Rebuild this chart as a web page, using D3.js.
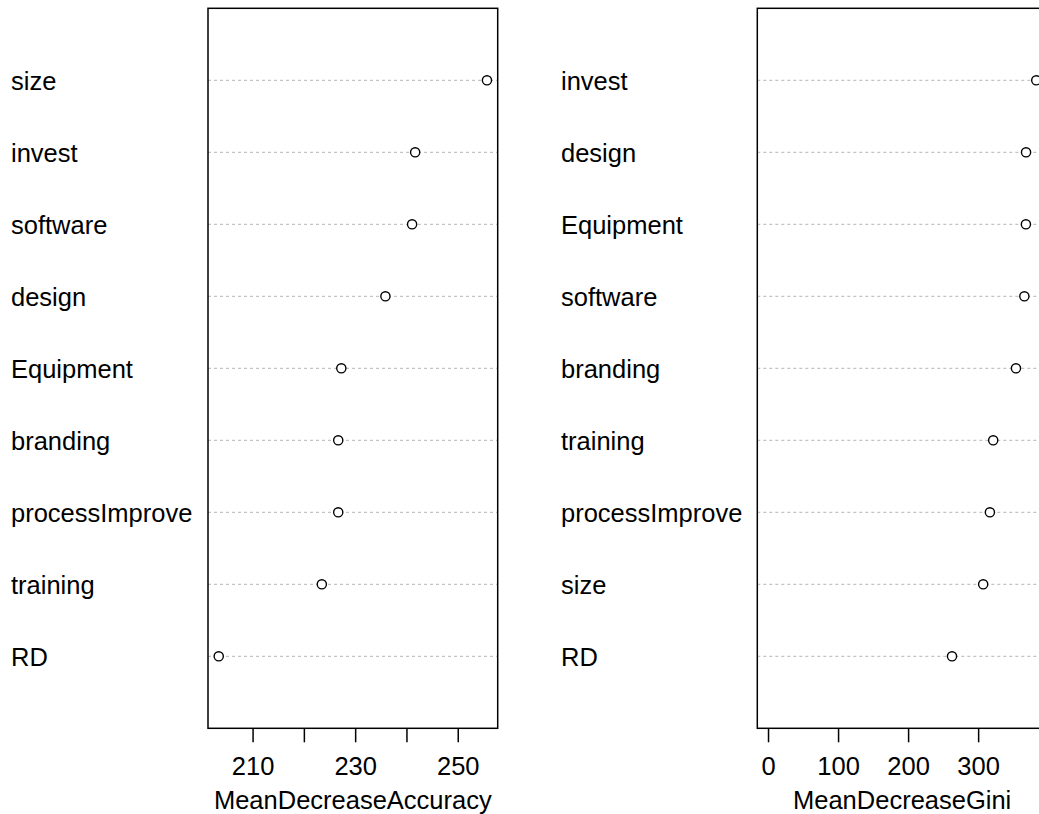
<!DOCTYPE html>
<html>
<head>
<meta charset="utf-8">
<script src="https://cdn.jsdelivr.net/npm/d3@7"></script>
<style>
  body { margin: 0; background: #fff; overflow: hidden; }
  svg text { font-family: "Liberation Sans", Arial, sans-serif; fill: #000; }
</style>
</head>
<body>
<svg id="chart"></svg>
<script>
// variable importance, listed top to bottom as in the plot
const accLabels = ["size", "invest", "software", "design", "Equipment", "branding", "processImprove", "training", "RD"];
const accValues = [255.7, 241.7, 241.1, 235.9, 227.3, 226.7, 226.7, 223.5, 203.4];
const accTicks = [210, 220, 230, 240, 250];
const accTickLabels = ["210", "", "230", "", "250"];

const giniLabels = ["invest", "design", "Equipment", "software", "branding", "training", "processImprove", "size", "RD"];
const giniValues = [383, 368.4, 368.2, 366, 354, 321.5, 316.8, 307.2, 262.7];
const giniTicks = [0, 100, 200, 300];
const giniTickLabels = ["0", "100", "200", "300"];

const W = 1039, H = 814;
const fontSize = 25.5;
const svg = d3.select("#chart").attr("width", W).attr("height", H);

// y: rows 1..n, ylim 0..n+1
const n = accLabels.length;
const y = d3.scaleLinear().domain([0, n + 1]).range([728.3, 8.3]);

function drawPanel(labels, values, domain, ticks, tickLabels, title, labelX, boxLeft, boxRight) {
  const x = d3.scaleLinear().domain(domain).range([boxLeft, boxRight]);
  const g = svg.append("g");

  const rows = labels.map((d, i) => ({ label: d, value: values[i], pos: n - i }));

  // dotted guide lines
  g.selectAll(".guide")
    .data(rows)
    .enter().append("line")
    .attr("class", "guide")
    .attr("x1", boxLeft)
    .attr("x2", boxRight)
    .attr("y1", d => y(d.pos))
    .attr("y2", d => y(d.pos))
    .style("stroke", "#b4b4b4")
    .style("stroke-width", 1)
    .style("stroke-dasharray", "3,3");

  g.selectAll(".pt")
    .data(rows)
    .enter().append("circle")
    .attr("class", "pt")
    .attr("cx", d => x(d.value))
    .attr("cy", d => y(d.pos))
    .attr("r", 4.6)
    .attr("fill", "#fff")
    .style("stroke", "#000")
    .style("stroke-width", 1.4);

  g.selectAll(".lab")
    .data(rows)
    .enter().append("text")
    .attr("class", "lab")
    .attr("x", labelX)
    .attr("y", d => y(d.pos) + 1)
    .attr("dy", "0.36em")
    .style("font-size", fontSize + "px")
    .text(d => d.label);

  // box
  g.append("rect")
    .attr("x", boxLeft)
    .attr("y", y(n + 1))
    .attr("width", boxRight - boxLeft)
    .attr("height", y(0) - y(n + 1))
    .attr("fill", "none")
    .style("stroke", "#000")
    .style("stroke-width", 1.5);

  const axis = d3.axisBottom(x)
    .tickValues(ticks)
    .tickSize(14)
    .tickPadding(15)
    .tickFormat((d, i) => tickLabels[i]);

  g.append("g")
    .attr("transform", `translate(0,${y(0)})`)
    .call(axis)
    .call(a => {
      a.select(".domain").remove();
      a.selectAll(".tick line").attr("stroke", "#000").attr("stroke-width", 1.5);
      a.selectAll(".tick text")
        .attr("fill", "#000")
        .style("font-size", fontSize + "px")
        .style("font-family", "'Liberation Sans', Arial, sans-serif");
    });

  g.append("text")
    .attr("x", (boxLeft + boxRight) / 2)
    .attr("y", 809)
    .attr("text-anchor", "middle")
    .style("font-size", fontSize + "px")
    .text(title);
}

// R pads the x range by 4%
const accExt = d3.extent(accValues);
const accPad = (accExt[1] - accExt[0]) * 0.04;
drawPanel(accLabels, accValues, [accExt[0] - accPad, accExt[1] + accPad],
  accTicks, accTickLabels, "MeanDecreaseAccuracy", 11, 208, 497.7);

const giniMax = d3.max(giniValues);
drawPanel(giniLabels, giniValues, [-giniMax * 0.04, giniMax * 1.04],
  giniTicks, giniTickLabels, "MeanDecreaseGini", 561, 757.3, 1047);
</script>
</body>
</html>
